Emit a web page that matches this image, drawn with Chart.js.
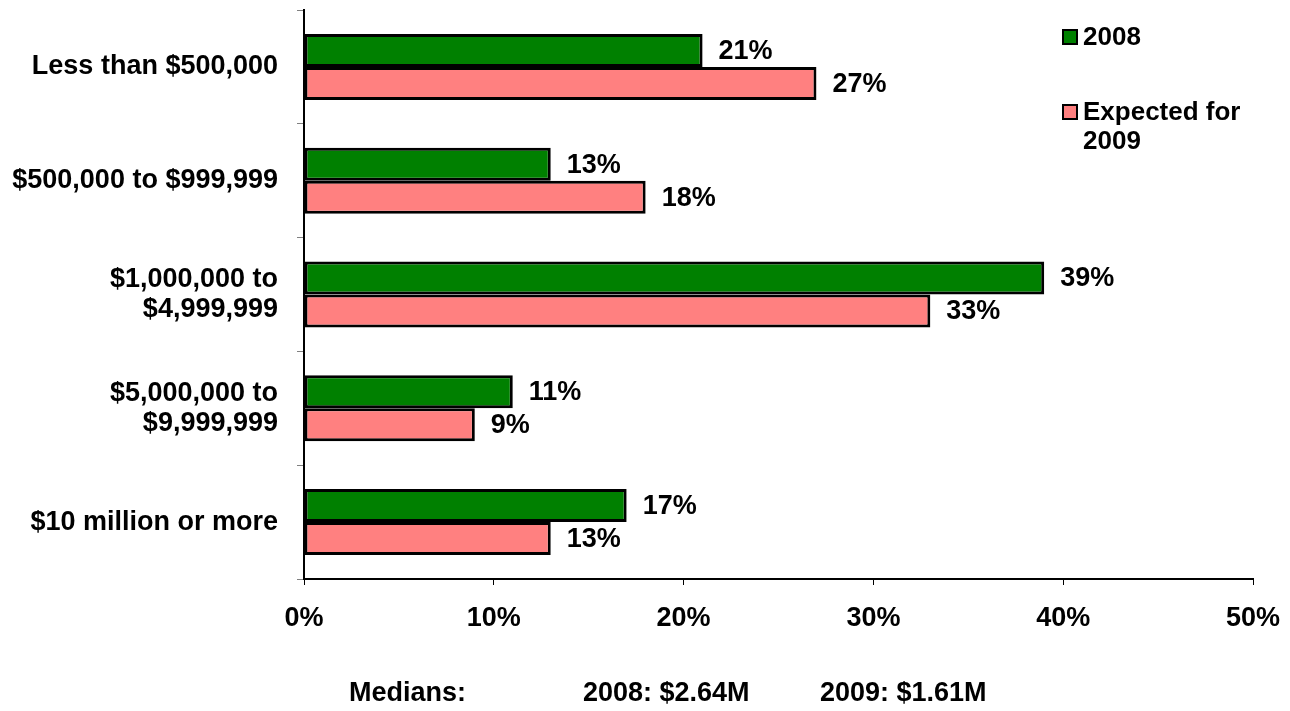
<!DOCTYPE html>
<html>
<head>
<meta charset="utf-8">
<script src="https://cdn.jsdelivr.net/npm/chart.js@4.4.0/dist/chart.umd.min.js"></script>
<style>
  html, body { margin: 0; padding: 0; background: #fff; }
  #wrap { position: relative; width: 1290px; height: 711px; font-family: "Liberation Sans", Arial, sans-serif; font-weight: bold; }
  #legend { position: absolute; left: 1062px; top: 22px; font-size: 26px; line-height: 29px; color: #000; }
  .item { display: flex; align-items: flex-start; margin-bottom: 46px; }
  .box { width: 12px; height: 12px; border: 2px solid #000; margin-top: 7px; margin-right: 5px; flex: none; }
  #medians { position: absolute; left: 0; top: 676px; font-size: 27px; line-height: 32px; color: #000; }
  #medians span { position: absolute; white-space: nowrap; }
</style>
</head>
<body>
<div id="wrap">
  <canvas id="incomeChart" width="1290" height="711"></canvas>
  <div id="legend"></div>
  <div id="medians">
    <span style="left:349px">Medians:</span>
    <span style="left:583px">2008: $2.64M</span>
    <span style="left:820px">2009: $1.61M</span>
  </div>
</div>
<script>
// Chart data
const categories = [
    'Less than $500,000',
    '$500,000 to $999,999',
    ['$1,000,000 to', '$4,999,999'],
    ['$5,000,000 to', '$9,999,999'],
    '$10 million or more'
];
const values2008 = [21, 13, 39, 11, 17];
const values2009 = [27, 18, 33, 9, 13];
const seriesNames = ['2008', 'Expected for 2009'];
const seriesColors = ['#008000', '#ff8080'];
const xTicks = [0, 10, 20, 30, 40, 50];

const labelFont = { family: '"Liberation Sans", Arial, sans-serif', size: 27, weight: 'bold', lineHeight: 1.1 };

// Draw value labels at the end of each bar
const valueLabels = {
    id: 'valueLabels',
    afterDatasetsDraw(chart) {
        const ctx = chart.ctx;
        ctx.save();
        ctx.font = 'bold 27px "Liberation Sans", Arial, sans-serif';
        ctx.fillStyle = '#000';
        ctx.textBaseline = 'middle';
        ctx.textAlign = 'left';
        chart.data.datasets.forEach((ds, i) => {
            chart.getDatasetMeta(i).data.forEach((bar, j) => {
                ctx.fillText(ds.data[j] + '%', bar.x + 16, bar.y + 1);
            });
        });
        ctx.restore();
    }
};

function buildLegend() {
    const legend = document.getElementById('legend');
    seriesNames.forEach((name, i) => {
        const item = document.createElement('div');
        item.className = 'item';
        const box = document.createElement('div');
        box.className = 'box';
        box.style.background = seriesColors[i];
        const text = document.createElement('div');
        text.innerHTML = name === 'Expected for 2009' ? 'Expected for<br>2009' : name;
        item.appendChild(box);
        item.appendChild(text);
        legend.appendChild(item);
    });
}

function initializeChart() {
    const ctx = document.getElementById('incomeChart').getContext('2d');
    new Chart(ctx, {
        type: 'bar',
        data: {
            labels: categories,
            datasets: [
                {
                    label: seriesNames[0],
                    data: values2008,
                    backgroundColor: seriesColors[0],
                    borderColor: '#000',
                    borderWidth: 3,
                    borderSkipped: false,
                    categoryPercentage: 0.58,
                    barPercentage: 1.0
                },
                {
                    label: seriesNames[1],
                    data: values2009,
                    backgroundColor: seriesColors[1],
                    borderColor: '#000',
                    borderWidth: 3,
                    borderSkipped: false,
                    categoryPercentage: 0.58,
                    barPercentage: 1.0
                }
            ]
        },
        options: {
            indexAxis: 'y',
            responsive: false,
            animation: false,
            layout: { padding: { top: 10, right: 37, bottom: 72, left: 0 } },
            plugins: {
                legend: { display: false },
                tooltip: { enabled: false }
            },
            scales: {
                x: {
                    min: 0,
                    max: 50,
                    afterBuildTicks: (scale) => {
                        scale.ticks = xTicks.map(v => ({ value: v }));
                    },
                    afterFit: (scale) => {
                        scale.height = 60;
                        scale.paddingLeft = 0;
                        scale.paddingRight = 0;
                    },
                    ticks: {
                        color: '#000',
                        font: labelFont,
                        padding: 19,
                        maxRotation: 0,
                        callback: (v) => v + '%'
                    },
                    grid: {
                        drawOnChartArea: false,
                        drawTicks: true,
                        tickLength: 6,
                        color: '#000'
                    },
                    border: { color: '#000', width: 2 }
                },
                y: {
                    afterFit: (scale) => {
                        scale.width = 304;
                        scale.paddingTop = 0;
                        scale.paddingBottom = 0;
                    },
                    ticks: {
                        color: '#000',
                        font: labelFont,
                        padding: 19
                    },
                    grid: {
                        offset: true,
                        drawOnChartArea: false,
                        drawTicks: true,
                        tickLength: 7,
                        color: '#808080'
                    },
                    border: { color: '#000', width: 2 }
                }
            }
        },
        plugins: [valueLabels]
    });
}

buildLegend();
initializeChart();
</script>
</body>
</html>
